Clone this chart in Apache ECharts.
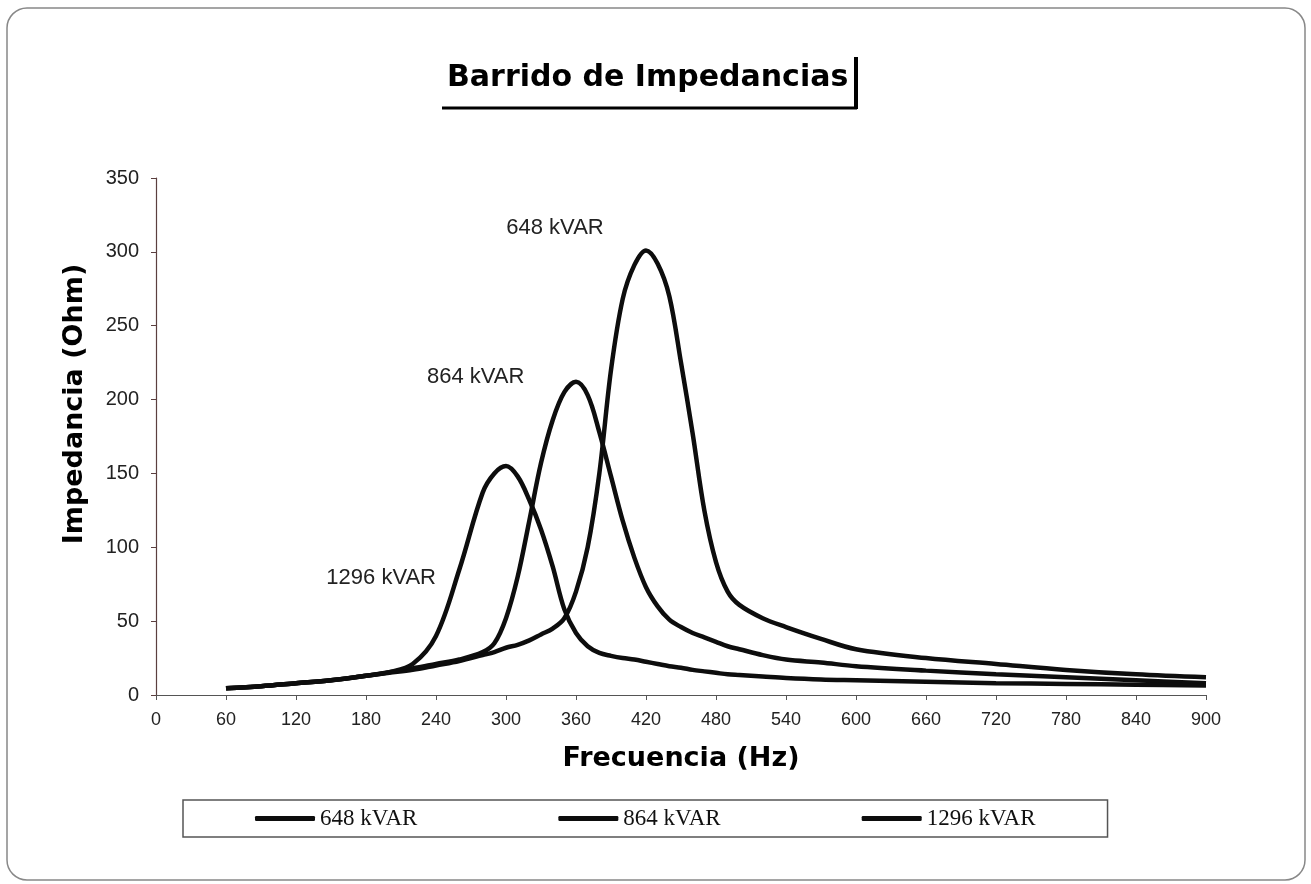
<!DOCTYPE html>
<html>
<head>
<meta charset="utf-8">
<title>Barrido de Impedancias</title>
<script src="https://cdn.jsdelivr.net/npm/echarts@6/dist/echarts.min.js"></script>
<style>
  html, body { margin: 0; padding: 0; background: #fff; }
  #chart { width: 1311px; height: 884px; }
</style>
</head>
<body>
<div id="chart"></div>
<script>
// frecuencia (Hz) y impedancia (Ohm)
var freqHz = [60, 90, 120, 150, 180, 200, 220, 240, 260, 280, 290, 300, 310, 320, 330, 340, 350, 360, 370, 380,
  390, 400, 410, 420, 430, 440, 450, 460, 470, 480, 490, 500, 520, 540, 570, 600, 660, 720, 780, 840, 900];

var z648 = [4.5, 6, 8, 10, 13, 15, 17, 20, 23, 27, 29, 32, 34, 37, 41, 45, 52, 70, 100, 150,
  220, 268, 291, 301, 292, 270, 225, 177, 125, 90, 70, 61, 52, 46, 38, 31, 25, 21, 17, 14, 12];

var z864 = [4.5, 6, 8, 10, 13, 15.5, 18, 21, 24, 29, 35, 52, 80, 118, 157, 186, 205, 212, 203, 178,
  148, 118, 93, 73, 60, 51, 46, 42, 39, 36, 33, 31, 27, 24, 22, 19.5, 16.5, 14, 12, 10, 8];

var z1296 = [4.5, 6, 8, 10, 13, 15.5, 21, 40, 85, 137, 150, 155, 148, 132, 112, 87, 58, 42, 33, 28.5,
  26.5, 25, 24, 22.5, 21, 19.5, 18.5, 17, 16, 15, 14, 13.5, 12.5, 11.5, 10.5, 10, 9, 8, 7.5, 7, 6.5];

var seriesNames = ['648 kVAR', '864 kVAR', '1296 kVAR'];

function pairs(ys) {
  return freqHz.map(function (f, i) { return [f, ys[i]]; });
}

var chart = echarts.init(document.getElementById('chart'));

// etiqueta de texto sobre cada curva
function curveLabel(name, x, y) {
  return {
    symbol: 'circle',
    symbolSize: 0,
    silent: true,
    label: {
      show: true,
      position: 'inside',
      formatter: '{b}',
      color: '#222',
      fontFamily: 'Liberation Sans, Arial, sans-serif',
      fontSize: 22
    },
    data: [{ name: name, coord: [x, y] }]
  };
}

function lineSeries(name, ys, mark) {
  return {
    name: name,
    type: 'line',
    data: pairs(ys),
    smooth: 0.35,
    showSymbol: false,
    symbol: 'none',
    lineStyle: { color: '#0d0d0d', width: 4.5 },
    itemStyle: { color: '#0d0d0d' },
    markPoint: mark
  };
}

var option = {
  backgroundColor: '#fff',
  animation: false,
  title: {
    text: 'Barrido de Impedancias',
    left: 442,
    top: 58,
    textStyle: {
      fontFamily: 'DejaVu Sans, sans-serif',
      fontWeight: 'bold',
      fontSize: 30,
      color: '#000'
    }
  },
  graphic: [
    {
      type: 'rect',
      shape: { x: 7, y: 8, width: 1298, height: 872, r: 20 },
      style: { fill: 'none', stroke: '#888', lineWidth: 1.5 },
      silent: true
    },
    {
      type: 'line',
      shape: { x1: 442, y1: 108, x2: 857, y2: 108 },
      style: { stroke: '#000', lineWidth: 3 },
      silent: true
    },
    {
      type: 'line',
      shape: { x1: 856, y1: 57, x2: 856, y2: 109 },
      style: { stroke: '#000', lineWidth: 4 },
      silent: true
    },
    {
      type: 'text',
      x: 75,
      y: 404,
      rotation: Math.PI / 2,
      silent: true,
      style: {
        text: 'Impedancia (Ohm)',
        fontFamily: 'DejaVu Sans, sans-serif',
        fontWeight: 'bold',
        fontSize: 27,
        fill: '#000',
        align: 'center',
        verticalAlign: 'middle'
      }
    }
  ],
  grid: { left: 156, right: 105, top: 178, bottom: 189 },
  legend: {
    data: seriesNames,
    left: 183,
    top: 800,
    orient: 'horizontal',
    icon: 'roundRect',
    itemWidth: 60,
    itemHeight: 5,
    itemGap: 141,
    padding: [7, 72, 7, 72],
    borderColor: '#555',
    borderWidth: 1.5,
    textStyle: {
      fontFamily: 'Liberation Serif, Times New Roman, serif',
      fontSize: 23,
      color: '#111'
    }
  },
  xAxis: {
    type: 'value',
    min: 0,
    max: 900,
    interval: 60,
    name: 'Frecuencia (Hz)',
    nameLocation: 'middle',
    nameGap: 50,
    nameTextStyle: {
      fontFamily: 'DejaVu Sans, sans-serif',
      fontWeight: 'bold',
      fontSize: 27,
      color: '#000'
    },
    axisLine: { lineStyle: { color: '#555', width: 1.2 } },
    axisTick: { show: true, length: 5, lineStyle: { color: '#555' } },
    axisLabel: {
      margin: 16,
      fontFamily: 'Liberation Sans, Arial, sans-serif',
      fontSize: 18,
      color: '#222'
    },
    splitLine: { show: false }
  },
  yAxis: {
    type: 'value',
    min: 0,
    max: 350,
    interval: 50,
    axisLine: { show: true, lineStyle: { color: '#5b3f3f', width: 1.2 } },
    axisTick: { show: true, length: 5, lineStyle: { color: '#5b3f3f' } },
    axisLabel: {
      margin: 17,
      fontFamily: 'Liberation Sans, Arial, sans-serif',
      fontSize: 20,
      color: '#222'
    },
    splitLine: { show: false }
  },
  series: [
    lineSeries(seriesNames[0], z648, curveLabel(seriesNames[0], 342, 316)),
    lineSeries(seriesNames[1], z864, curveLabel(seriesNames[1], 274, 215)),
    lineSeries(seriesNames[2], z1296, curveLabel(seriesNames[2], 193, 79))
  ]
};

chart.setOption(option);
</script>
</body>
</html>
